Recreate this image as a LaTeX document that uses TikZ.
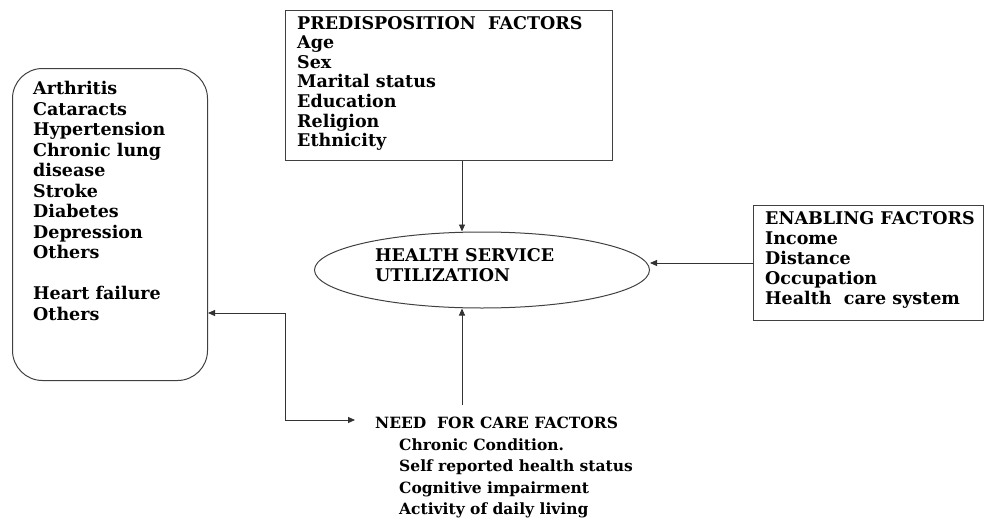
\documentclass[tikz,border=0pt]{standalone}
\usepackage{fontspec}
\setmainfont{DejaVu Serif}
\usetikzlibrary{shapes.geometric,arrows.meta,positioning,calc}

\tikzset{
  >={Triangle[length=7pt,width=6pt]},
  box/.style={draw=black!75, line width=1pt, inner sep=0pt, anchor=north west},
  listtext/.style={align=left, inner sep=0pt, anchor=north west,
    font=\fontsize{17.5}{20.5}\selectfont\bfseries},
  arr/.style={draw=black!80, line width=0.9pt},
}

\begin{document}
\begin{tikzpicture}[x=1pt,y=-1pt]
 \useasboundingbox (0,0) rectangle (985,522);
 % chronic conditions
 \node[box, rounded corners=30pt, minimum width=195pt, minimum height=312pt] (cond) at (12,68) {};
 \node[listtext] (condtext) at ($(cond.north west)+(21,13)$) {Arthritis\\Cataracts\\Hypertension\\Chronic lung\\disease\\Stroke\\Diabetes\\Depression\\Others\\[20.5pt]Heart failure\\Others};
 % predisposition factors
 \node[box, minimum width=327pt, minimum height=150pt] (pre) at (285,10) {};
 \node[listtext, font=\fontsize{17.5}{19.6}\selectfont\bfseries] (pretext) at ($(pre.north west)+(12,6)$) {PREDISPOSITION\ \ FACTORS\\Age\\Sex\\Marital status\\Education\\Religion\\Ethnicity};
 % enabling factors
 \node[box, minimum width=230pt, minimum height=115pt] (enab) at (753,205) {};
 \node[listtext, font=\fontsize{17.5}{20}\selectfont\bfseries] (enabtext) at ($(enab.north west)+(12,6)$) {ENABLING FACTORS\\Income\\Distance\\Occupation\\Health\ \ care system};
 % outcome
 \node[draw=black!75, line width=1pt, ellipse, minimum width=335pt, minimum height=76pt] (hsu) at (482,270) {};
 \node[listtext] (hsutext) at (375,248) {HEALTH SERVICE\\UTILIZATION};
 % need for care
 \node[listtext, font=\fontsize{15.5}{21.5}\selectfont\bfseries] (need) at (375,417) {NEED\ \ FOR CARE FACTORS\\
   \hspace*{24pt}Chronic Condition.\\
   \hspace*{24pt}Self reported health status\\
   \hspace*{24pt}Cognitive impairment\\
   \hspace*{24pt}Activity of daily living};

 \coordinate (mid) at (462,0);
 \coordinate (kneeA) at (285,313);
 \coordinate (kneeB) at (285,420);
 \draw[arr, ->] (pre.south -| mid) -- (hsu.north -| mid);
 \draw[arr, ->] (enab.west) -- (enab.west -| hsu.east);
 \draw[arr, ->] ($(need.north -| mid)+(0,-12)$) -- (hsu.south -| mid);
 \draw[arr, <->] (kneeA -| cond.east) -- (kneeA) -- (kneeB) -- ($(kneeB -| need.west)+(-20,0)$);
\end{tikzpicture}
\end{document}
